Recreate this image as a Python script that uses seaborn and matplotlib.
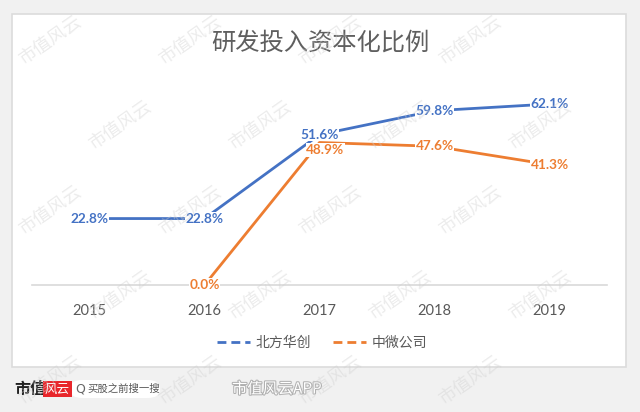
import matplotlib
matplotlib.use("Agg")
import matplotlib.pyplot as plt
import matplotlib.patheffects as pe
import seaborn as sns
import pandas as pd
from matplotlib.lines import Line2D
from matplotlib.patches import Rectangle, FancyBboxPatch

years = ["2015", "2016", "2017", "2018", "2019"]
bfhc_years = ["2015", "2016", "2017", "2018", "2019"]
bfhc_values = [22.8, 22.8, 51.6, 59.8, 62.1]
zw_years = ["2016", "2017", "2018", "2019"]
zw_values = [0.0, 48.9, 47.6, 41.3]
series_names = ["北方华创", "中微公司"]
title = "研发投入资本化比例"

sns.set_theme(style="white")
plt.rcParams["font.family"] = ["Noto Sans CJK SC", "DejaVu Sans"]

df = pd.concat([
    pd.DataFrame({"year": bfhc_years, "value": bfhc_values, "company": series_names[0]}),
    pd.DataFrame({"year": zw_years, "value": zw_values, "company": series_names[1]}),
])
df["x"] = df["year"].map({y: i for i, y in enumerate(years)})

colors = {series_names[0]: "#4472C4", series_names[1]: "#ED7D31"}

fig = plt.figure(figsize=(6.4, 4.12), dpi=100)
fig.patch.set_facecolor("#f1f1f1")

# white card
card = Rectangle((12/640, 1-367/412), (626-12)/640, (367-14)/412, transform=fig.transFigure,
                 facecolor="white", edgecolor="#dcdcdc", linewidth=1.2, zorder=-5)
fig.patches.append(card)
pill = FancyBboxPatch((70/640, 1-398/412), 90/640, 18/412, transform=fig.transFigure,
                      boxstyle="round,pad=0,rounding_size=0.02", facecolor="white",
                      edgecolor="none", zorder=-5)
fig.patches.append(pill)

ax = fig.add_axes([32/640, 1-285/412, (607-32)/640, (285-81)/412])
ax.set_facecolor("none")
sns.lineplot(data=df, x="x", y="value", hue="company", palette=colors, linewidth=2.0,
             legend=False, ax=ax, zorder=3)
ax.set_xlim(-0.5, len(years)-0.5)
ax.set_ylim(0, 70)
ax.set_xticks(range(len(years)))
ax.set_xticklabels(years, fontsize=10.5, color="#595959", family=["Lato", "DejaVu Sans"])
ax.tick_params(axis="x", length=0, pad=14)
ax.set_yticks([])
ax.set_xlabel("")
ax.set_ylabel("")
for s in ["top", "right", "left"]:
    ax.spines[s].set_visible(False)
ax.spines["bottom"].set_color("#d9d9d9")
ax.spines["bottom"].set_linewidth(1.2)
ax.spines["bottom"].set_zorder(1)

for name, grp in df.groupby("company"):
    for _, r in grp.iterrows():
        special = (name == series_names[1] and r["year"] == "2017")
        dx = 0.05 if special else 0
        dy = -2.6 if special else 0
        ax.text(r["x"] + dx, r["value"] + dy, f"{r['value']:.1f}%", ha="center", va="center",
                fontsize=9.8, fontweight="bold", color=colors[name],
                family=["Lato", "DejaVu Sans"], zorder=4,
                bbox=dict(boxstyle="square,pad=0.05", facecolor="white", edgecolor="none"))

fig.text(320/640, 1-43/412, title, ha="center", va="center", fontsize=17.5, color="#5f5f5f")

handles = [Line2D([0], [0], color=colors[n], lw=2, linestyle=(0, (3.2, 1.8))) for n in series_names]
fig.legend(handles, series_names, loc="center", bbox_to_anchor=(322/640, 1-343/412), ncol=2,
           frameon=False, fontsize=10, labelcolor="#595959", handlelength=2.4,
           columnspacing=1.6, handletextpad=0.4)

# faint watermarks
for row, yy in enumerate(range(40, 400, 85)):
    off = 0 if row % 2 == 0 else 70
    for xx in range(50 + off, 600, 140):
        fig.text(xx/640, 1-yy/412, "市值风云", rotation=35, fontsize=13, color="#d0d0d0",
                 alpha=0.4, ha="center", va="center", zorder=10)

# footer
fig.text(14/640, 1-389/412, "市值", fontsize=11.5, fontweight="bold", color="#222222", va="center")
fig.text(45/640, 1-389/412, "风云", fontsize=9, color="white", va="center", style="italic",
         bbox=dict(boxstyle="square,pad=0.15", facecolor="#e8262b", edgecolor="none"))
fig.text(75/640, 1-389/412, "Q", fontsize=9, color="#666666", va="center",
         family=["DejaVu Sans"])
fig.text(87/640, 1-389/412, "买股之前搜一搜", fontsize=7.5, color="#555555", va="center")
fig.text(232/640, 1-389/412, "市值风云APP", fontsize=11, color="white", va="center",
         path_effects=[pe.withStroke(linewidth=1.5, foreground="#b0b0b0")])

fig.savefig("out.png", dpi=100, facecolor=fig.get_facecolor())
